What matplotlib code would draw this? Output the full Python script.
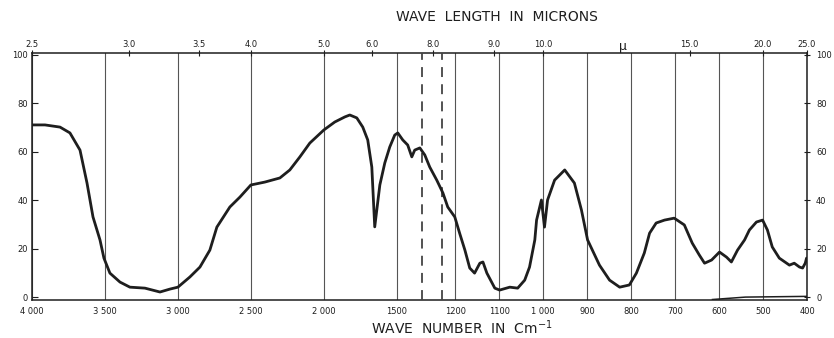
import numpy as np
import matplotlib
matplotlib.use("Agg")
import matplotlib.pyplot as plt

# ---- data ----
wavenumber = [4000, 3911, 3808, 3740, 3671, 3623, 3582, 3534, 3507, 3466, 3397, 3329,
              3226, 3123, 3055, 3000, 2918, 2849, 2781, 2733, 2644, 2575, 2500, 2404,
              2301, 2233, 2164, 2096, 2000, 1925, 1856, 1822, 1774, 1733, 1699, 1671,
              1651, 1616, 1582, 1548, 1514, 1493, 1459, 1425, 1397, 1377, 1342, 1308,
              1274, 1242, 1228, 1217, 1201, 1190, 1178, 1167, 1156, 1144, 1137, 1128,
              1110, 1099, 1076, 1058, 1042, 1031, 1019, 1015, 1004, 997, 990, 974,
              951, 929, 913, 899, 872, 849, 826, 804, 788, 770, 758, 743, 724, 702,
              679, 661, 645, 633, 617, 599, 583, 572, 558, 542, 531, 515, 501, 490,
              479, 463, 440, 429, 417, 410, 404, 401]
transmittance = [71.1, 71.1, 70.2, 67.8, 60.7, 47.1, 33.1, 23.6, 16.1, 9.9, 6.2, 4.1,
                 3.7, 2.1, 3.3, 4.1, 8.3, 12.4, 19.4, 28.9, 37.2, 41.3, 46.3, 47.5,
                 49.2, 52.5, 57.9, 63.6, 69.0, 72.3, 74.4, 75.2, 74.0, 70.2, 64.9, 53.7,
                 29.0, 46.3, 55.4, 62.0, 66.9, 67.8, 64.9, 62.8, 57.9, 60.7, 61.6, 58.7,
                 53.7, 48.3, 43.0, 37.2, 33.1, 26.4, 19.4, 12.0, 9.9, 14.0, 14.5, 9.9,
                 3.7, 2.9, 4.1, 3.7, 7.0, 12.4, 23.6, 31.8, 40.1, 28.9, 40.1, 48.3,
                 52.5, 47.1, 36.0, 23.6, 13.2, 7.0, 4.1, 5.0, 9.9, 18.2, 26.4, 30.6, 31.8, 32.6,
                 29.8, 22.3, 17.4, 14.0, 15.3, 18.6, 16.5, 14.5, 19.4, 23.6, 27.7, 31.0, 31.8, 27.7,
                 20.7, 16.1, 13.2, 14.0, 12.4, 12.0, 14.0, 16.1]

baseline_w = [615, 540, 400]
baseline_t = [-1.0, 0.0, 0.3]

dashed_marks = [1330, 1231]

bottom_ticks = [4000, 3500, 3000, 2500, 2000, 1500, 1200, 1100, 1000, 900, 800, 700, 600, 500, 400]
bottom_labels = ["4 000", "3 500", "3 000", "2 500", "2 000", "1500", "1200", "1100",
                 "1 000", "900", "800", "700", "600", "500", "400"]

microns = [2.5, 3.0, 3.5, 4.0, 5.0, 6.0, 8.0, 9.0, 10.0, 15.0, 20.0, 25.0]
micron_labels = ["2.5", "3.0", "3.5", "4.0", "5.0", "6.0", "8.0", "9.0", "10.0", "15.0", "20.0", "25.0"]

y_ticks = [0, 20, 40, 60, 80, 100]
y_labels = ["0", "20", "40", "60", "80", "100"]

# ---- piecewise-linear chart-paper scale (scale change near 1250 cm-1) ----
# increasing function of wavenumber; the axis is then inverted (4000 on the left)
BREAK = 1250.0
S1, S2 = 0.146, 0.44
U_BREAK = (4000 - BREAK) * S1


def fwd(w):
    w = np.asarray(w, dtype=float)
    return -np.where(w >= BREAK, (4000 - w) * S1, U_BREAK + (BREAK - w) * S2)


def inv(u):
    u = -np.asarray(u, dtype=float)
    return np.where(u <= U_BREAK, 4000 - u / S1, BREAK - (u - U_BREAK) / S2)


W, H = 834, 338
fig = plt.figure(figsize=(W / 100, H / 100), dpi=100)
ax = fig.add_axes([32 / W, (H - 300) / H, 775 / W, 247 / H])
ax.set_xscale('function', functions=(fwd, inv))

ink = '#1e1e1e'
ax.plot(wavenumber, transmittance, color=ink, lw=2.0, solid_joinstyle='round',
        solid_capstyle='round', zorder=5)
ax.plot(baseline_w, baseline_t, color=ink, lw=1.1, zorder=4)

for d in dashed_marks:
    ax.axvline(d, color='#444444', lw=1.3, linestyle=(0, (5.5, 4)), zorder=3)

ax.set_xticks(bottom_ticks)
ax.set_xticklabels(bottom_labels)
ax.xaxis.set_minor_locator(matplotlib.ticker.NullLocator())
ax.grid(True, axis='x', color='#555555', lw=0.8, zorder=1)
ax.tick_params(axis='x', length=0, pad=5, labelsize=6, colors=ink)

ax.set_yticks(y_ticks)
ax.set_yticklabels(y_labels)
ax.tick_params(axis='y', direction='in', length=4, width=0.8, labelsize=6,
               pad=3, colors=ink)

for s in ax.spines.values():
    s.set_color(ink)
    s.set_linewidth(1.1)

# right-hand transmittance scale
ax3 = ax.twinx()
ax3.set_ylim(-1.2, 100.8)
ax3.set_yticks(y_ticks)
ax3.set_yticklabels(y_labels)
ax3.tick_params(axis='y', direction='inout', length=5, width=0.8, labelsize=6,
                pad=4, colors=ink)
for s in ax3.spines.values():
    s.set_visible(False)

# top axis in microns
ax2 = ax.twiny()
ax2.set_xscale('function', functions=(fwd, inv))
ax2.set_xticks([1e4 / m for m in microns])
ax2.set_xticklabels(micron_labels)
ax2.xaxis.set_minor_locator(matplotlib.ticker.NullLocator())
ax2.tick_params(axis='x', direction='inout', length=4, width=0.8, labelsize=6,
                pad=1, colors=ink)
for s in ax2.spines.values():
    s.set_visible(False)

ax.set_xlim(4000, 400)
ax2.set_xlim(4000, 400)
ax.set_ylim(-1.2, 100.8)

ax.text(1e4 / 12.2, 100.8, "μ", fontsize=9, ha='center', va='bottom', color=ink)

fig.text(497 / W, 1 - 17 / H, "WAVE  LENGTH  IN  MICRONS", ha='center', va='center',
         fontsize=10, color=ink)
fig.text(462 / W, 1 - 328 / H, "WAVE  NUMBER  IN  Cm$^{-1}$", ha='center', va='center',
         fontsize=10, color=ink)

fig.savefig("out.png", dpi=100, facecolor='white')
